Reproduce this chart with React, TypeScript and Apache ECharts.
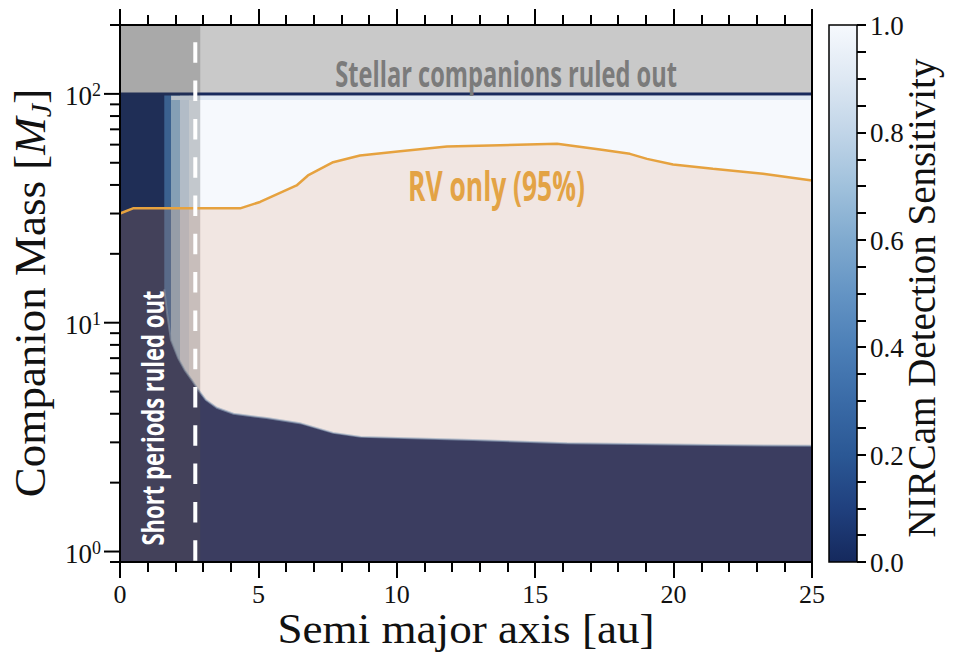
import React, { useEffect, useRef } from 'react';
import * as echarts from 'echarts';

// ---------- data ----------
const X_MIN = 0;
const X_MAX = 25;
const Y_MIN = 0.9;
const Y_MAX = 200;

const xTickValues = [0, 5, 10, 15, 20, 25];
const yMajorTicks = [1, 10, 100];
const yMajorExponents = ['0', '1', '2'];
const yMinorTicks = [0.9, 2, 3, 4, 5, 6, 7, 8, 9, 20, 30, 40, 50, 60, 70, 80, 90, 200];

// RV only (95%) limit
const rvSemiMajor = [0, 0.47, 4.34, 5.06, 6.38, 6.79, 7.7, 8.67, 10.12, 11.81, 13.73, 15.79, 17.34, 18.42, 19.04, 19.98, 21.42, 23.23, 25];
const rvMass = [30.0, 31.6, 31.6, 33.7, 39.8, 44.0, 50.3, 53.8, 56.2, 58.9, 59.7, 60.5, 57.1, 54.7, 52.0, 49.1, 47.1, 44.8, 41.8];

// NIRCam detection boundary (lower edge of the sensitive region)
const detSemiMajor = [1.6, 1.6, 1.7, 1.84, 2.1, 2.34, 2.6, 2.82, 3.1, 3.5, 4.1, 5.3, 6.5, 7.7, 8.7, 12.75, 16.15, 21.4, 25];
const detMass = [100, 14, 11, 8.4, 7.0, 6.2, 5.6, 5.1, 4.6, 4.25, 4.0, 3.83, 3.64, 3.3, 3.17, 3.07, 2.97, 2.92, 2.9];

// transition columns at short separations
const transEdges = [1.6, 1.85, 2.15, 2.5, 2.9];
const transSens = [0.3, 0.68, 0.87, 0.95];
const plateauSens = 1.0;
const topRowMass = 96;
const topRowSens = 0.9;

const stellarLimit = 100;
const shortPeriodShade = 2.9;
const shortPeriodLine = 2.72;

// colour bar
const cbMin = 0;
const cbMax = 1;
const cbInterval = 0.2;
const cbTickLabels = [0, 0.2, 0.4, 0.6, 0.8, 1.0];

// colormap (reversed Blues)
const cmapPos = [0, 0.1, 0.2, 0.3, 0.4, 0.5, 0.6, 0.7, 0.8, 0.9, 1];
const cmapColors = ['#15295d', '#20407e', '#2b5895', '#3a6ba7', '#4c7fb7', '#6494c4', '#80aacf', '#a0c1dc', '#c1d5e8', '#dee8f3', '#f6f9fd'];

// annotation anchors (data coords)
const stellarLabelPos = [13.95, 124];
const rvLabelPos = [13.6, 39.8];
const shortLabelPos = [1.15, 3.83];

// ---------- helpers ----------
function hexToRgb(h: string) {
  const n = parseInt(h.slice(1), 16);
  return [(n >> 16) & 255, (n >> 8) & 255, n & 255];
}
function cmap(v: number) {
  let i = 0;
  while (i < cmapPos.length - 2 && v > cmapPos[i + 1]) i++;
  const t = Math.max(0, Math.min(1, (v - cmapPos[i]) / (cmapPos[i + 1] - cmapPos[i])));
  const a = hexToRgb(cmapColors[i]);
  const b = hexToRgb(cmapColors[i + 1]);
  const c = a.map((x, k) => Math.round(x + (b[k] - x) * t));
  return `rgb(${c[0]},${c[1]},${c[2]})`;
}

const SERIF = 'Liberation Serif';
const SANS = 'Open Sans';
const axisLineStyle = { color: '#000', width: 2 };

function measure(text: string, font: string) {
  const c = document.createElement('canvas').getContext('2d')!;
  c.font = font;
  return c.measureText(text).width;
}

export default function App() {
  const ref = useRef<HTMLDivElement>(null);

  useEffect(() => {
    const chart = echarts.init(ref.current!, null, { renderer: 'svg' });

    const xAxisBase = {
      type: 'value',
      gridIndex: 0,
      min: X_MIN,
      max: X_MAX,
      interval: 5,
      axisLine: { show: true, onZero: false, lineStyle: axisLineStyle },
      axisTick: { show: true, length: 16, lineStyle: { color: '#000', width: 2 } },
      minorTick: { show: true, splitNumber: 5, length: 10, lineStyle: { color: '#000', width: 2 } },
      axisLabel: { show: false },
      splitLine: { show: false },
      minorSplitLine: { show: false },
      z: 10,
    };

    const option: any = {
      animation: false,
      backgroundColor: '#ffffff',
      grid: [
        { left: 120, top: 25, width: 692, height: 537, outerBoundsMode: 'none' },
        { left: 829, top: 25, width: 28, height: 537, outerBoundsMode: 'none' },
      ],
      xAxis: [
        { ...xAxisBase, position: 'bottom' },
        { ...xAxisBase, position: 'top' },
        { type: 'value', gridIndex: 1, min: 0, max: 1, show: false },
      ],
      yAxis: [
        {
          type: 'log',
          logBase: 10,
          gridIndex: 0,
          min: Y_MIN,
          max: Y_MAX,
          axisLine: { show: true, onZero: false, lineStyle: axisLineStyle },
          axisTick: { show: false },
          axisLabel: { show: false },
          splitLine: { show: false },
          z: 10,
        },
        {
          type: 'value',
          gridIndex: 0,
          position: 'right',
          min: 0,
          max: 1,
          axisLine: { show: true, onZero: false, lineStyle: axisLineStyle },
          axisTick: { show: false },
          axisLabel: { show: false },
          splitLine: { show: false },
          z: 10,
        },
        {
          type: 'value',
          gridIndex: 1,
          position: 'right',
          min: cbMin,
          max: cbMax,
          interval: cbInterval,
          axisLine: { show: false, onZero: false },
          axisTick: { show: true, length: 9, lineStyle: { color: '#000', width: 2 } },
          minorTick: { show: true, splitNumber: 4, length: 9, lineStyle: { color: '#000', width: 2 } },
          axisLabel: { show: false },
          splitLine: { show: false },
          z: 10,
        },
      ],
      series: [
        // 0: sensitivity 0 background
        {
          type: 'custom',
          xAxisIndex: 0,
          yAxisIndex: 0,
          z: 1,
          data: [[X_MIN, Y_MIN]],
          renderItem: (_p: any, api: any) => {
            const a = api.coord([X_MIN, stellarLimit]);
            const b = api.coord([X_MAX, Y_MIN]);
            return {
              type: 'rect',
              shape: { x: a[0], y: a[1], width: b[0] - a[0], height: b[1] - a[1] },
              style: { fill: cmap(0) },
            };
          },
        },
        // 1: sensitive region
        {
          type: 'custom',
          xAxisIndex: 0,
          yAxisIndex: 0,
          z: 2,
          data: [[X_MIN, Y_MIN]],
          renderItem: (_p: any, api: any) => {
            const pts = detSemiMajor.map((a, i) => api.coord([a, detMass[i]]));
            pts.push(api.coord([X_MAX, stellarLimit]));
            pts.push(api.coord([detSemiMajor[0], stellarLimit]));
            const x0 = api.coord([transEdges[0], 1])[0];
            const x1 = api.coord([X_MAX, 1])[0];
            const off = (a: number) => (api.coord([a, 1])[0] - x0) / (x1 - x0);
            const stops: any[] = [];
            transSens.forEach((s, i) => {
              stops.push({ offset: off(transEdges[i]), color: cmap(s) });
              stops.push({ offset: off(transEdges[i + 1]), color: cmap(s) });
            });
            stops.push({ offset: off(transEdges[transEdges.length - 1]), color: cmap(plateauSens) });
            stops.push({ offset: 1, color: cmap(plateauSens) });
            const edgePts = detSemiMajor.slice(1).map((a, i) => api.coord([a, detMass[i + 1]]));
            const rowA = api.coord([transEdges[1], topRowMass]);
            const rowB = api.coord([X_MAX, topRowMass]);
            return {
              type: 'group',
              children: [
                {
                  type: 'polygon',
                  shape: { points: pts },
                  style: { fill: new echarts.graphic.LinearGradient(x0, 0, x1, 0, stops, true) },
                },
                {
                  type: 'polyline',
                  shape: { points: edgePts },
                  style: { stroke: cmap(0.6), lineWidth: 2, fill: 'none', opacity: 0.6 },
                },
                {
                  type: 'line',
                  shape: { x1: rowA[0], y1: rowA[1], x2: rowB[0], y2: rowB[1] },
                  style: { stroke: cmap(topRowSens), lineWidth: 4 },
                },
              ],
            };
          },
        },
        // 2: stellar companions box
        {
          type: 'custom',
          xAxisIndex: 0,
          yAxisIndex: 0,
          z: 3,
          data: [[X_MIN, Y_MIN]],
          renderItem: (_p: any, api: any) => {
            const a = api.coord([X_MIN, Y_MAX]);
            const b = api.coord([X_MAX, stellarLimit]);
            return {
              type: 'rect',
              shape: { x: a[0], y: a[1], width: b[0] - a[0], height: b[1] - a[1] },
              style: { fill: '#c9c9c9' },
            };
          },
        },
        // 3: navy line at the stellar limit
        {
          type: 'line',
          xAxisIndex: 0,
          yAxisIndex: 0,
          z: 4,
          data: [[X_MIN, stellarLimit], [X_MAX, stellarLimit]],
          symbol: 'none',
          lineStyle: { color: '#17295c', width: 3 },
          silent: true,
        },
        // 4: short period shade
        {
          type: 'custom',
          xAxisIndex: 0,
          yAxisIndex: 0,
          z: 5,
          data: [[X_MIN, Y_MIN]],
          renderItem: (_p: any, api: any) => {
            const a = api.coord([X_MIN, Y_MAX]);
            const b = api.coord([shortPeriodShade, Y_MIN]);
            return {
              type: 'rect',
              shape: { x: a[0], y: a[1], width: b[0] - a[0], height: b[1] - a[1] },
              style: { fill: 'rgba(64,64,64,0.23)' },
            };
          },
        },
        // 5: RV only (95%)
        {
          type: 'line',
          xAxisIndex: 0,
          yAxisIndex: 0,
          z: 6,
          data: rvSemiMajor.map((a, i) => [a, rvMass[i]]),
          symbol: 'none',
          lineStyle: { color: '#e6a23f', width: 2.5 },
          areaStyle: { color: 'rgba(225,150,110,0.19)', origin: 'start', opacity: 1 },
          silent: true,
        },
        // 6: dashed short-period line
        {
          type: 'line',
          xAxisIndex: 0,
          yAxisIndex: 0,
          z: 7,
          data: [[shortPeriodLine, Y_MAX], [shortPeriodLine, Y_MIN]],
          symbol: 'none',
          lineStyle: { color: '#ffffff', width: 4, type: [20.5, 17.8], dashOffset: 21.3 },
          silent: true,
        },
        // 7: y-axis ticks (log major + minor)
        {
          type: 'custom',
          xAxisIndex: 0,
          yAxisIndex: 0,
          z: 11,
          clip: false,
          data: [...yMajorTicks.map((v) => [X_MIN, v, 1]), ...yMinorTicks.map((v) => [X_MIN, v, 0])],
          renderItem: (_params: any, api: any) => {
            const v = api.value(1);
            const major = api.value(2) === 1;
            const p = api.coord([X_MIN, v]);
            const len = major ? 16 : 10;
            return {
              type: 'line',
              shape: { x1: p[0] - len, y1: p[1], x2: p[0], y2: p[1] },
              style: { stroke: '#000', lineWidth: 2 },
            };
          },
        },
        // 8: colour bar
        {
          type: 'custom',
          xAxisIndex: 2,
          yAxisIndex: 2,
          z: 2,
          data: [[0, 0]],
          renderItem: (_p: any, api: any) => {
            const a = api.coord([0, cbMax]);
            const b = api.coord([1, cbMin]);
            const stops = cmapPos
              .map((p, i) => ({ offset: 1 - p, color: cmapColors[i] }))
              .sort((s, t) => s.offset - t.offset);
            return {
              type: 'rect',
              shape: { x: a[0], y: a[1], width: b[0] - a[0], height: b[1] - a[1] },
              style: {
                fill: new echarts.graphic.LinearGradient(0, 0, 0, 1, stops),
                stroke: '#000',
                lineWidth: 1.5,
              },
            };
          },
        },
      ],
    };

    chart.setOption(option);

    const toPx = (pt: number[]) => chart.convertToPixel({ seriesIndex: 5 }, pt) as number[];
    const toCb = (pt: number[]) => chart.convertToPixel({ seriesIndex: 8 }, pt) as number[];
    const s1 = toPx(stellarLabelPos);
    const s2 = toPx(rvLabelPos);
    const s3 = toPx(shortLabelPos);

    const stellarText = 'Stellar companions ruled out';
    const stellarFont = `bold 36px "${SANS}"`;
    const rvText = 'RV only (95%)';
    const rvFont = `bold 41px "${SANS}"`;
    const shortText = 'Short periods ruled out';
    const shortFont = `bold 31px "${SANS}"`;
    const xTitle = 'Semi major axis [au]';
    const xTitleFont = `42px "${SERIF}"`;

    const sx1 = 342 / measure(stellarText, stellarFont);
    const sx2 = 177 / measure(rvText, rvFont);
    const sx3 = 255 / measure(shortText, shortFont);
    const sxT = Math.min(1.1, 377 / measure(xTitle, xTitleFont));

    const txt = (extra: any, style: any) => ({
      type: 'text',
      z: 100,
      ...extra,
      style: { align: 'center', verticalAlign: 'middle', textAlign: 'center', textVerticalAlign: 'middle', ...style },
    });

    const tickLabelStyle = { fontFamily: SERIF, fontSize: 26, lineHeight: 24, fill: '#111' };

    const xLabels = xTickValues.map((v) => {
      const p = toPx([v, Y_MIN]);
      return txt({ x: p[0], y: p[1] + 32 }, { ...tickLabelStyle, text: String(v) });
    });
    const yLabels = yMajorTicks.map((v, i) => {
      const p = toPx([X_MIN, v]);
      return txt(
        { x: p[0] - 19, y: p[1] + 2 },
        {
          ...tickLabelStyle,
          fontSize: 27,
          lineHeight: 30,
          align: 'right',
          textAlign: 'right',
          text: '10{sup|' + yMajorExponents[i] + '}',
          rich: { sup: { fontFamily: SERIF, fontSize: 18, lineHeight: 18, verticalAlign: 'top', fill: '#111' } },
        }
      );
    });
    const cbLabels = cbTickLabels.map((v) => {
      const p = toCb([1, v]);
      return txt(
        { x: p[0] + 13, y: p[1] + 1 },
        { ...tickLabelStyle, fontSize: 27, align: 'left', textAlign: 'left', text: v.toFixed(1) }
      );
    });

    chart.setOption({
      graphic: [
        ...xLabels,
        ...yLabels,
        ...cbLabels,
        txt({ x: s1[0], y: s1[1], scaleX: sx1 }, { text: stellarText, fontFamily: SANS, fontWeight: 'bold', fontSize: 36, fill: '#7b7b7b' }),
        txt({ x: s2[0], y: s2[1], scaleX: sx2 }, { text: rvText, fontFamily: SANS, fontWeight: 'bold', fontSize: 41, fill: '#e3a345' }),
        txt({ x: s3[0], y: s3[1], rotation: Math.PI / 2, scaleX: sx3 }, { text: shortText, fontFamily: SANS, fontWeight: 'bold', fontSize: 31, fill: '#ffffff' }),
        txt({ x: 466, y: 629, scaleX: sxT }, { text: xTitle, fontFamily: SERIF, fontSize: 42, lineHeight: 38, fill: '#111' }),
        txt(
          { x: 30, y: 293, rotation: Math.PI / 2 },
          {
            text: 'Companion Mass [{it|M}{sub|J}]',
            fontFamily: SERIF,
            fontSize: 45,
            lineHeight: 50,
            fill: '#111',
            rich: {
              it: { fontFamily: SERIF, fontSize: 45, fontStyle: 'italic', lineHeight: 50, fill: '#111' },
              sub: { fontFamily: SERIF, fontSize: 30, fontStyle: 'italic', lineHeight: 20, verticalAlign: 'bottom', fill: '#111' },
            },
          }
        ),
        txt({ x: 921, y: 298, rotation: Math.PI / 2 }, { text: 'NIRCam Detection Sensitivity', fontFamily: SERIF, fontSize: 39, fill: '#111' }),
      ],
    });

    return () => chart.dispose();
  }, []);

  return (
    <div
      ref={ref}
      style={{ position: 'fixed', left: 0, top: 0, width: 957, height: 654, background: '#fff' }}
    />
  );
}
